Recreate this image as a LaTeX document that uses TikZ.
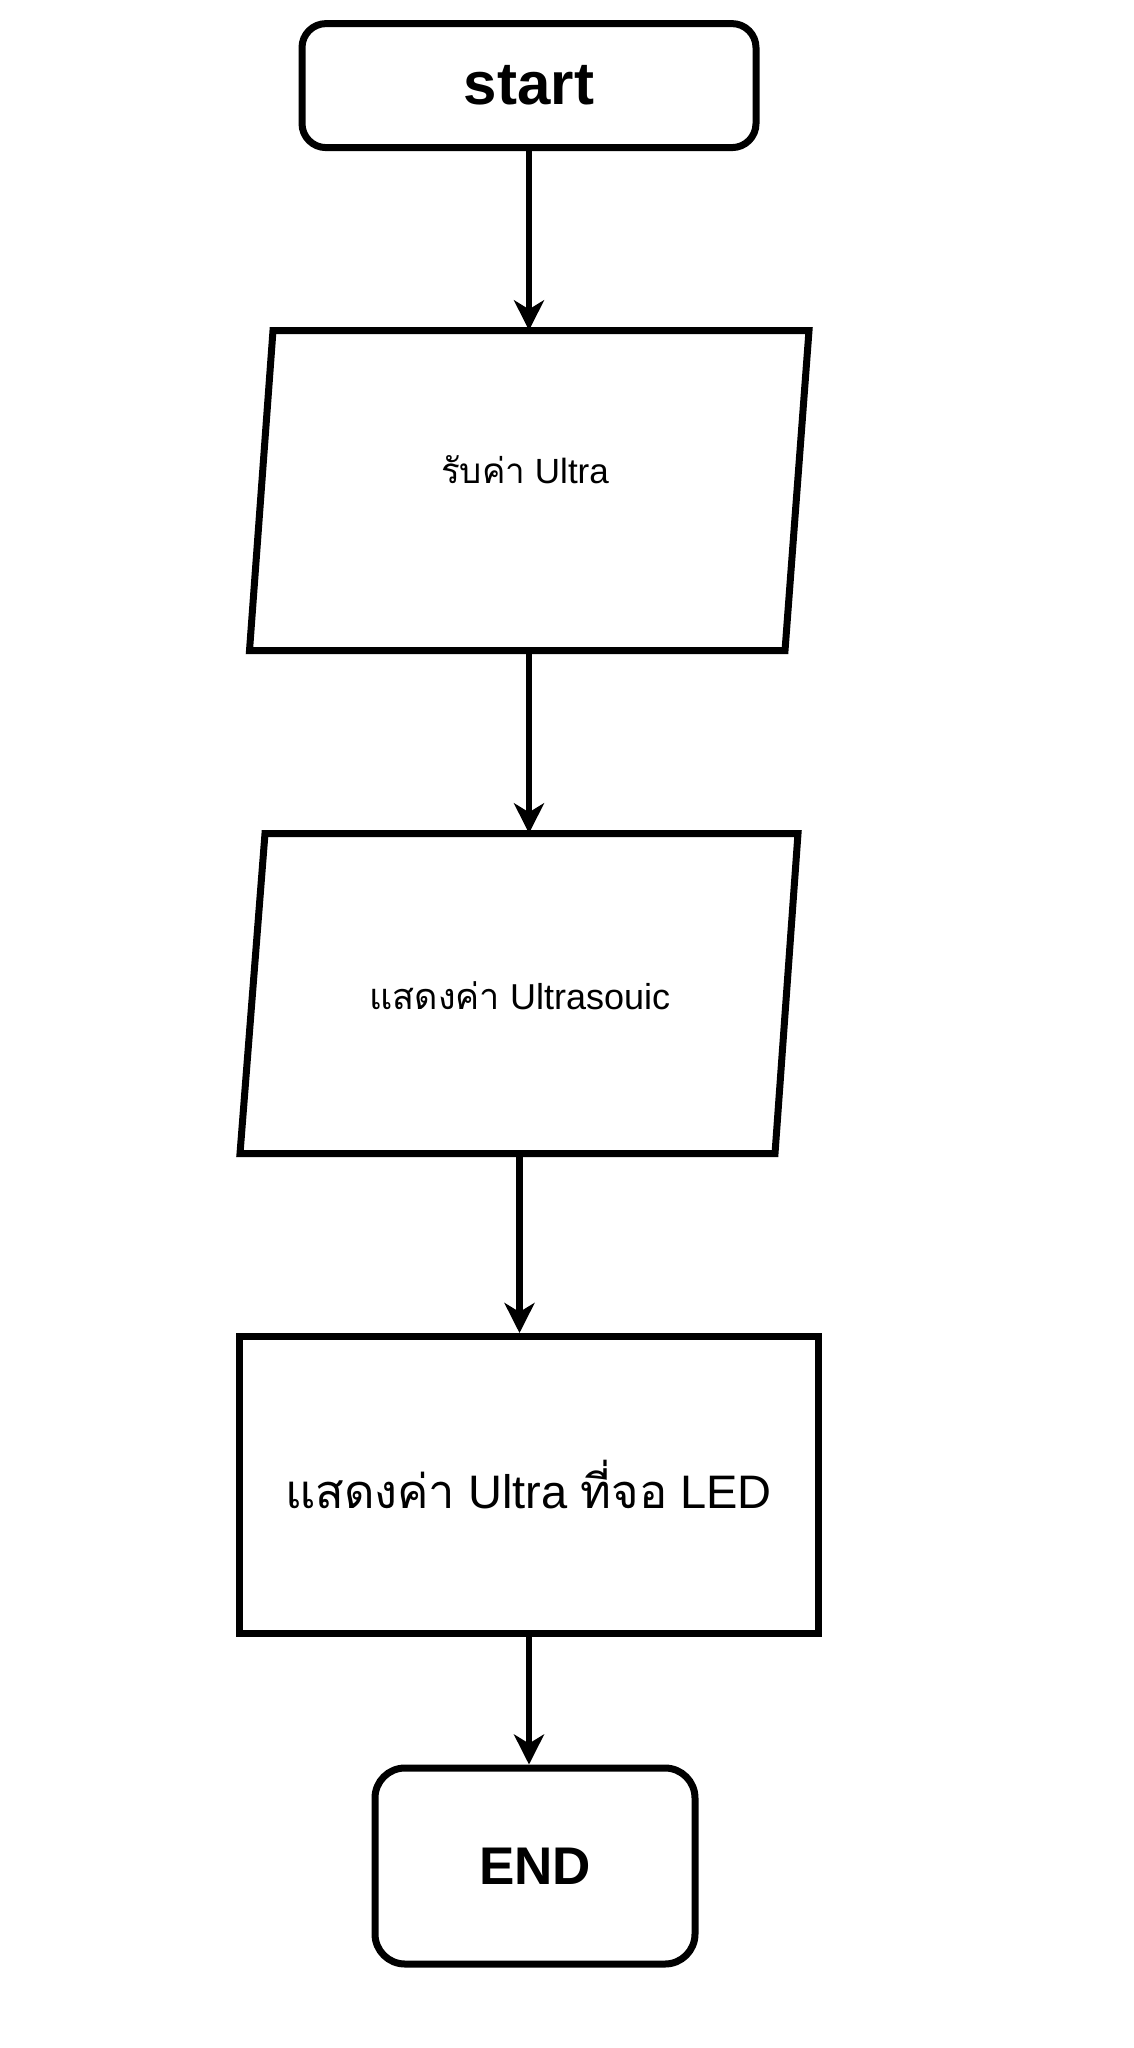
\documentclass[tikz,border=0pt]{standalone}
\usepackage{fontspec}
\setmainfont{Liberation Sans}
\newfontfamily\thaifont[Script=Thai]{Loma}
\usetikzlibrary{arrows.meta}
\tikzset{
  x=1pt, y=-1pt,
  boxline/.style={line width=7pt, line join=miter},
  term/.style={draw, line width=7pt, rounded corners=24pt, inner sep=0pt, font=\bfseries},
  proc/.style={draw, line width=7pt, inner sep=0pt},
  ghost/.style={inner sep=0pt},
  flow/.style={line width=6.5pt, -{Stealth[length=30pt, width=30pt, inset=9pt]}}
}
\begin{document}
\begin{tikzpicture}
\useasboundingbox (0,0) rectangle (1134,2048);
\fill[white] (0,0) rectangle (1134,2048);

% start
\node[term, minimum width=454pt, minimum height=124pt, font=\fontsize{60}{62}\selectfont\bfseries] (s) at (529,85.6) {start};

% parallelogram 1
\node[ghost, minimum width=536pt, minimum height=320pt] (p1) at (529,490.5) {};
\draw[boxline] (273,330.5) -- (809,330.5) -- (785,650.6) -- (249.5,650.6) -- cycle;
\node[ghost, font=\fontsize{35}{38}\selectfont] (p1t) at (525,470) {{\thaifont รับค่า} Ultra};

% parallelogram 2
\node[ghost, minimum width=533pt, minimum height=320pt] (p2) at (519.5,993.5) {};
\draw[boxline] (265,833.5) -- (798,833.5) -- (775,1153.6) -- (240,1153.6) -- cycle;
\node[ghost, font=\fontsize{36}{38}\selectfont] (p2t) at (520,996) {{\thaifont แสดงค่า} Ultrasouic};

% rectangle
\node[proc, minimum width=579pt, minimum height=296.5pt, font=\fontsize{47}{49}\selectfont] (r) at (528.5,1484.75) {{\thaifont แสดงค่า} Ultra {\thaifont ที่จอ} LED};

% END
\node[term, rounded corners=30pt, minimum width=320pt, minimum height=196pt, font=\fontsize{53}{55}\selectfont\bfseries] (e) at (535,1866) {END};

% connectors
\draw[flow] (s.south -| p1.north) -- (p1.north);
\draw[flow] (p1.south) -- (p1.south |- p2.north);
\draw[flow] (p2.south) -- (p2.south |- r.north);
\draw[flow] ([xshift=0.5pt]r.south) -- ([xshift=0.5pt]r.south |- e.north);
\end{tikzpicture}
\end{document}
